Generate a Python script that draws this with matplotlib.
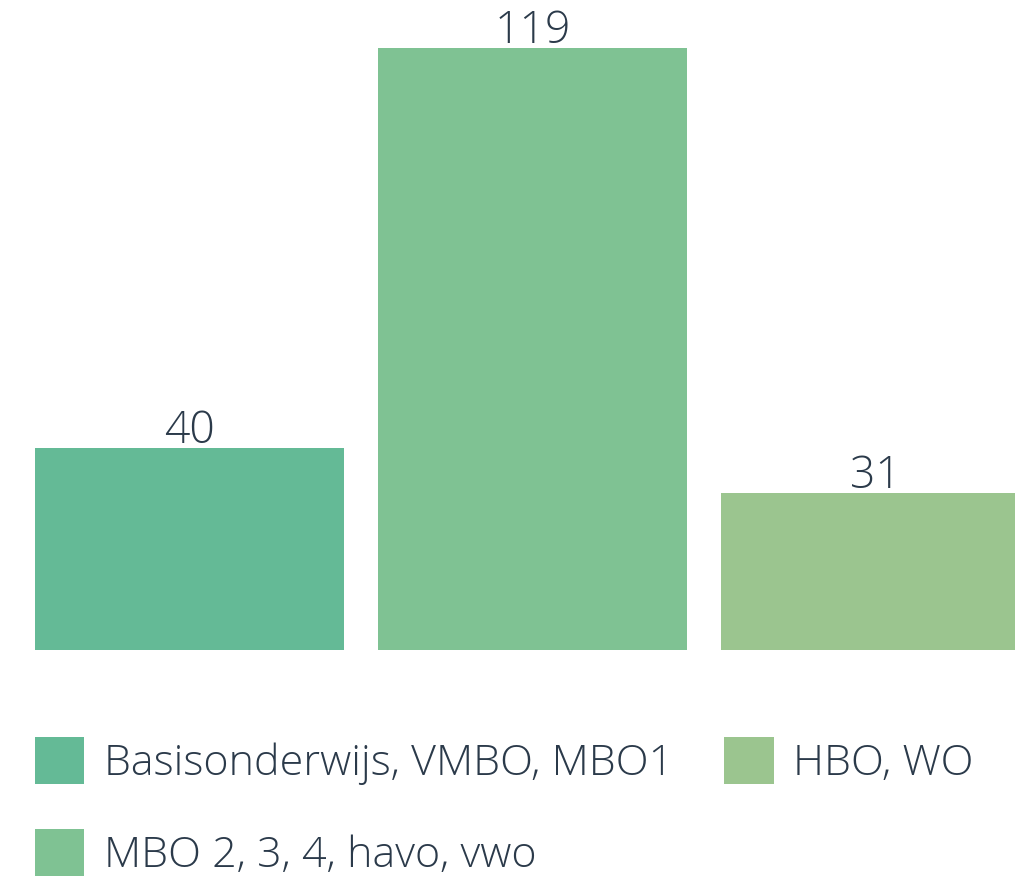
import matplotlib.pyplot as plt

categories = ["Basisonderwijs, VMBO, MBO1", "MBO 2, 3, 4, havo, vwo", "HBO, WO"]
values = [40, 119, 31]
colors = ["#64BA96", "#7FC293", "#9BC58F"]
text_color = "#2B3A4A"

plt.rcParams['font.family'] = ['Open Sans', 'DejaVu Sans']

W, H = 1015, 883
fig = plt.figure(figsize=(W / 100, H / 100), dpi=100)
# axes: bottom of bars at y=650 px from top, top at figure top
ax = fig.add_axes([0, (H - 650) / H, 1, 650 / H])

x = range(len(values))
bars = ax.bar(x, values, width=0.9, color=colors, label=categories)
ax.set_xlim(-189.5 / 343, (W - 189.5) / 343)
ax.set_ylim(0, 650 / 5.06)

for b, v in zip(bars, values):
    ax.text(b.get_x() + b.get_width() / 2, v + 1.0, str(v), ha='center', va='baseline',
            fontsize=32, fontweight='light', color=text_color)

ax.axis('off')

leg = fig.legend(handles=list(bars), labels=categories, ncol=2,
                 loc='upper left', bbox_to_anchor=(-4 / W, 1 - 698 / H),
                 frameon=False, handlelength=1.15, handleheight=1.31,
                 handletextpad=0.45, labelspacing=1.03, columnspacing=1.2,
                 prop={'size': 31, 'weight': 'light'})
for t in leg.get_texts():
    t.set_color(text_color)

fig.savefig("out.png", dpi=100)
